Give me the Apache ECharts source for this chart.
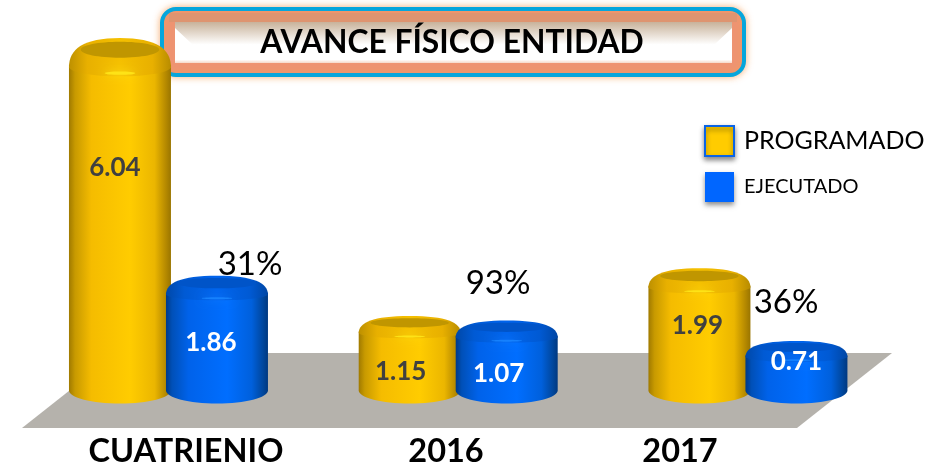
<!DOCTYPE html>
<html><head><meta charset="utf-8">
<style>html,body{margin:0;padding:0;background:#fff}#c{width:951px;height:471px}</style>
<script src="https://cdn.jsdelivr.net/npm/echarts@6/dist/echarts.min.js"></script>
</head><body><div id="c"></div>
<script>
const categories = ['CUATRIENIO', '2016', '2017'];
const programado = [6.04, 1.15, 1.99];
const ejecutado = [1.86, 1.07, 0.71];
const avance = ['31%', '93%', '36%'];
const titleText = 'AVANCE FÍSICO ENTIDAD';

// Layout only (pixels)
const FONT = 'Lato, "Open Sans", sans-serif';
const catLabelX = [186, 446, 680];
const pctPos = [[250, 264], [498, 283], [786, 302]];
const progLabel = [[-5, 130], [-9, 56], [-2, 57]];
const ejecLabel = [[-6, 67], [-8, 53], [0, 21]];

const palette = {
  yellow: {edge: [[0,'#a07a00'],[0.06,'#c89a00'],[0.22,'#f5bc00'],[0.6,'#ffcc00'],[0.84,'#ebb600'],[0.95,'#b58900'],[1,'#9a7500']],
    rimEdge: [[0,'#bd9000'],[0.18,'#e8b000'],[0.5,'#f5c000'],[0.82,'#e8b000'],[1,'#b88c00']],
    cap: '#c09600', glow: '#ffe81a', text: '#404040'},
  blue: {edge: [[0,'#003a86'],[0.06,'#0050b8'],[0.22,'#0062ea'],[0.6,'#006eff'],[0.84,'#0060dc'],[0.95,'#00479e'],[1,'#00387f']],
    rimEdge: [[0,'#0048a8'],[0.18,'#005ad4'],[0.5,'#0064ee'],[0.82,'#005ad4'],[1,'#0046a4']],
    cap: '#0054c8', glow: '#1a86ff', text: '#ffffff'}
};

function stops(list) { return list.map(s => ({offset: s[0], color: s[1]})); }

function cylinder(pal, sign, labels) {
  return function (params, api) {
    const i = api.value(0), v = api.value(1);
    const band = api.size([1, 0])[0];
    const cx = api.coord([i, 0])[0] + sign * band * 0.1674;
    const zero = api.coord([i, 0])[1];
    const top = api.coord([i, v])[1];
    const w = band * 0.352, rx = w / 2, L = cx - rx, R = cx + rx;
    const side = zero + 9, ryB = 13;
    const dome = 12 + (zero + 21.6 - top) * 0.04;
    const sy = top + dome;
    const k = 0.5523;
    const body = `M${L} ${sy} L${L} ${side} C${L} ${side + ryB * k} ${cx - rx * k} ${side + ryB} ${cx} ${side + ryB} C${cx + rx * k} ${side + ryB} ${R} ${side + ryB * k} ${R} ${side} L${R} ${sy} Z`;
    const lip = dome * 0.34;
    const low = sy + dome * 0.1;
    const rim = `M${L} ${low} C${L} ${top + dome * 0.42} ${cx - rx * 0.72} ${top} ${cx} ${top} C${cx + rx * 0.72} ${top} ${R} ${top + dome * 0.42} ${R} ${low} C${R - 2} ${low + lip * 0.6} ${cx + rx * k} ${low + lip} ${cx} ${low + lip} C${cx - rx * k} ${low + lip} ${L + 2} ${low + lip * 0.6} ${L} ${low} Z`;
    const capRy = dome * 0.3;
    const capCy = top + dome * 0.44;
    const lab = labels[i];
    return {
      type: 'group',
      children: [
        {type: 'path', shape: {pathData: body}, style: {fill: {type: 'linear', x: 0, y: 0, x2: 1, y2: 0, colorStops: stops(pal.edge)}}},
        {type: 'path', shape: {pathData: rim}, style: {fill: {type: 'linear', x: 0, y: 0, x2: 1, y2: 0, colorStops: stops(pal.rimEdge)}}},
        {type: 'ellipse', shape: {cx: cx, cy: low + lip - dome * 0.12, rx: rx * 0.3, ry: dome * 0.06}, style: {fill: pal.glow, shadowBlur: 9, shadowColor: pal.glow, opacity: 0.85}},
        {type: 'ellipse', shape: {cx: cx, cy: capCy, rx: rx * 0.77, ry: capRy}, style: {fill: pal.cap}},
        {type: 'text', style: {text: v.toFixed(2), x: cx + lab[0], y: top + lab[1], align: 'center', verticalAlign: 'middle', font: 'bold 26px ' + FONT, fill: pal.text}}
      ]
    };
  };
}

function toData(arr) { return arr.map((v, i) => [i, v]); }

const graphics = [
  {type: 'polygon', z: 0, shape: {points: [[22, 428], [117, 353], [892, 353], [797, 428]]}, style: {fill: '#b5b2ac'}},
  {type: 'rect', z: 0, shape: {x: 162, y: 9, width: 582, height: 66, r: 14}, style: {fill: '#ee9472', stroke: '#06a6dc', lineWidth: 4, shadowBlur: 7, shadowColor: 'rgba(245,160,90,.7)'}},
  {type: 'rect', z: 0, shape: {x: 169, y: 13, width: 568, height: 9}, style: {fill: '#de9470'}},
  {type: 'rect', z: 0, shape: {x: 175, y: 22, width: 557, height: 41}, style: {fill: {type: 'linear', x: 0, y: 0, x2: 0, y2: 1, colorStops: [{offset: 0, color: '#c8b29a'}, {offset: 0.55, color: '#ffffff'}, {offset: 0.92, color: '#ffffff'}, {offset: 1, color: '#f6d8c8'}]}}},
  {type: 'polygon', z: 0, shape: {points: [[175, 28], [192, 44], [192, 56], [175, 60]]}, style: {fill: '#ffffff'}},
  {type: 'polygon', z: 0, shape: {points: [[732, 28], [715, 44], [715, 56], [732, 60]]}, style: {fill: '#ffffff'}}
];
categories.forEach((c, i) => graphics.push({type: 'text', z: 5, style: {text: c, x: catLabelX[i], y: 452, align: 'center', verticalAlign: 'middle', font: 'bold 32.5px ' + FONT, fill: '#000'}}));
avance.forEach((t, i) => graphics.push({type: 'text', z: 5, style: {text: t, x: pctPos[i][0], y: pctPos[i][1], align: 'center', verticalAlign: 'middle', font: '33px ' + FONT, fill: '#000'}}));

const chart = echarts.init(document.getElementById('c'), null, {renderer: 'canvas'});
chart.setOption({
  animation: false,
  backgroundColor: '#ffffff',
  title: {text: titleText, left: 447, top: 22, textAlign: 'center', textStyle: {fontFamily: FONT, fontWeight: 'bold', fontSize: 31.8, color: '#000'}},
  grid: {left: 23.6, right: 58.2, top: 11.9, bottom: 89.6},
  xAxis: {type: 'category', data: categories, axisLine: {show: false}, axisTick: {show: false}, axisLabel: {show: false}},
  yAxis: {type: 'value', min: 0, max: 6.5, show: false, splitLine: {show: false}},
  legend: {
    orient: 'vertical', left: 699, top: 120, itemWidth: 29, itemHeight: 30, itemGap: 15,
    textStyle: {fontFamily: FONT, color: '#000', padding: [0, 0, 0, 5]},
    data: [
      {name: 'PROGRAMADO', icon: 'rect', textStyle: {fontSize: 25}, itemStyle: {color: '#ffcc00', borderColor: '#0a64e6', borderWidth: 2, shadowBlur: 5, shadowOffsetY: 3, shadowColor: 'rgba(0,0,0,.45)'}},
      {name: 'EJECUTADO', icon: 'rect', textStyle: {fontSize: 20}, itemStyle: {color: '#0066ff', borderWidth: 0, shadowBlur: 5, shadowOffsetY: 3, shadowColor: 'rgba(0,0,0,.45)'}}
    ]
  },
  graphic: {elements: graphics},
  series: [
    {name: 'PROGRAMADO', type: 'custom', z: 2, clip: false, silent: true, encode: {x: 0, y: 1}, itemStyle: {color: '#ffcc00'}, data: toData(programado), renderItem: cylinder(palette.yellow, -1, progLabel)},
    {name: 'EJECUTADO', type: 'custom', z: 3, clip: false, silent: true, encode: {x: 0, y: 1}, itemStyle: {color: '#0066ff'}, data: toData(ejecutado), renderItem: cylinder(palette.blue, 1, ejecLabel)}
  ]
});
</script></body></html>
